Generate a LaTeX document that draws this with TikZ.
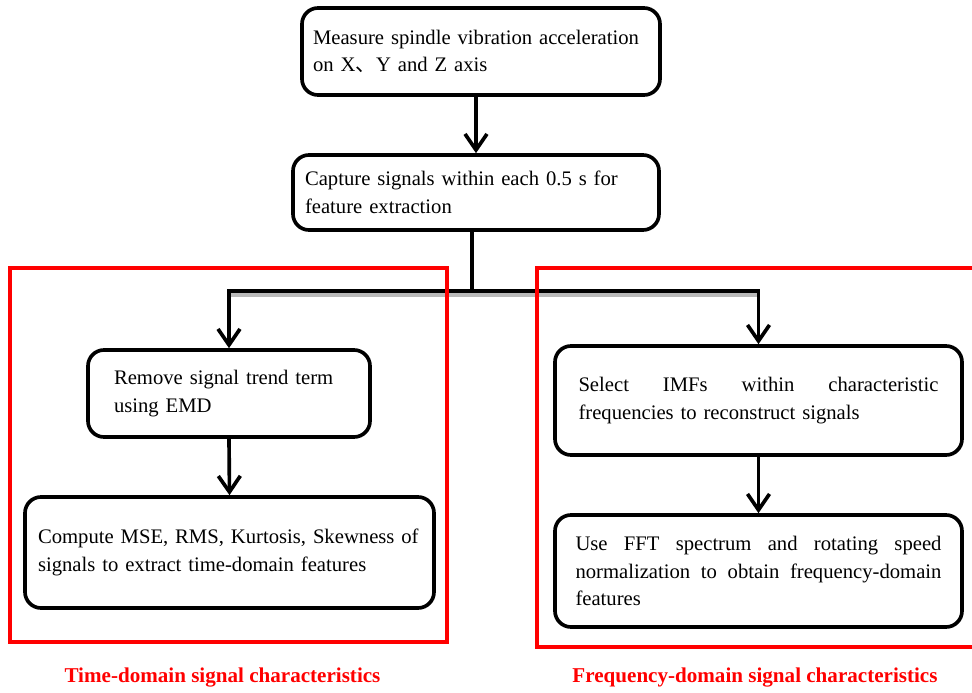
\documentclass[tikz,border=0pt]{standalone}
\usepackage{fontspec}
\setmainfont{Liberation Serif}
\newfontfamily\cjkfont{Noto Sans CJK SC}
\usetikzlibrary{arrows.meta}
\tikzset{
    procbox/.style={draw, line width=2.6pt, rounded corners=0.4cm, align=left, inner sep=0pt, font=\fontsize{14.7}{19.5}\selectfont},
    flowline/.style={line width=2.6pt},
    flowarrow/.style={flowline, -{Straight Barb[length=4mm,width=5.5mm]}},
    shadeline/.style={gray!55, line width=2.2pt},
    groupframe/.style={red, line width=2.8pt},
    grouplabel/.style={red, font=\fontsize{15}{18}\selectfont\bfseries},
}
\begin{document}
\begin{tikzpicture}
    \useasboundingbox (0,0) rectangle (24.3,-17.325);

    \node[procbox, minimum width=8.95cm, minimum height=2.175cm, text width=8.4cm] (measure) at (12.025,-1.2875)
        {Measure spindle vibration acceleration\\on X{\cjkfont 、}Y and Z axis};
    \node[procbox, minimum width=9.15cm, minimum height=1.875cm, text width=8.55cm] (capture) at (11.9,-4.8125)
        {Capture signals within each 0.5 s for\\feature extraction};
    \node[procbox, minimum width=7.05cm, minimum height=2.175cm, text width=5.75cm] (trend) at (5.725,-9.8375)
        {Remove signal trend term\\using EMD};
    \node[procbox, minimum width=10.225cm, minimum height=2.775cm, text width=9.575cm] (stats) at (5.7375,-13.8125)
        {Compute MSE, RMS, Kurtosis, Skewness of\\signals to extract time-domain features};
    \node[procbox, minimum width=10.175cm, minimum height=2.725cm, text width=9cm] (imf) at (18.9625,-10.0125)
        {Select\hfill IMFs\hfill within\hfill characteristic\\frequencies to reconstruct signals};
    \node[procbox, minimum width=10.175cm, minimum height=2.8cm, text width=9.15cm] (fft) at (18.9625,-14.275)
        {Use\hfill FFT\hfill spectrum\hfill and\hfill rotating\hfill speed\\normalization\hfill to\hfill obtain\hfill frequency-domain\\features};

    \coordinate (split) at (11.8,-7.275);

    \draw[flowarrow] (measure.south -| capture.north) -- (capture.north);
    \draw[shadeline] ([yshift=-0.1cm]trend.north |- split) -- ([yshift=-0.1cm]imf.north |- split);
    \draw[flowline] (capture.south -| split) -- (split);
    \draw[flowarrow] (split) -| (trend.north);
    \draw[flowarrow] (split) -| (imf.north);
    \draw[flowarrow] (trend.south) -- (stats.north);
    \draw[flowarrow] (imf.south) -- (fft.north);

    \draw[groupframe] (0.25,-6.7) rectangle (11.175,-16.05);
    \draw[groupframe] (24.3,-6.7) -- (13.425,-6.7) -- (13.425,-16.175) -- (24.3,-16.175);

    \node[grouplabel] (timelabel) at (5.5625,-16.95) {Time-domain signal characteristics};
    \node[grouplabel] (freqlabel) at (18.875,-16.95) {Frequency-domain signal characteristics};
\end{tikzpicture}
\end{document}
